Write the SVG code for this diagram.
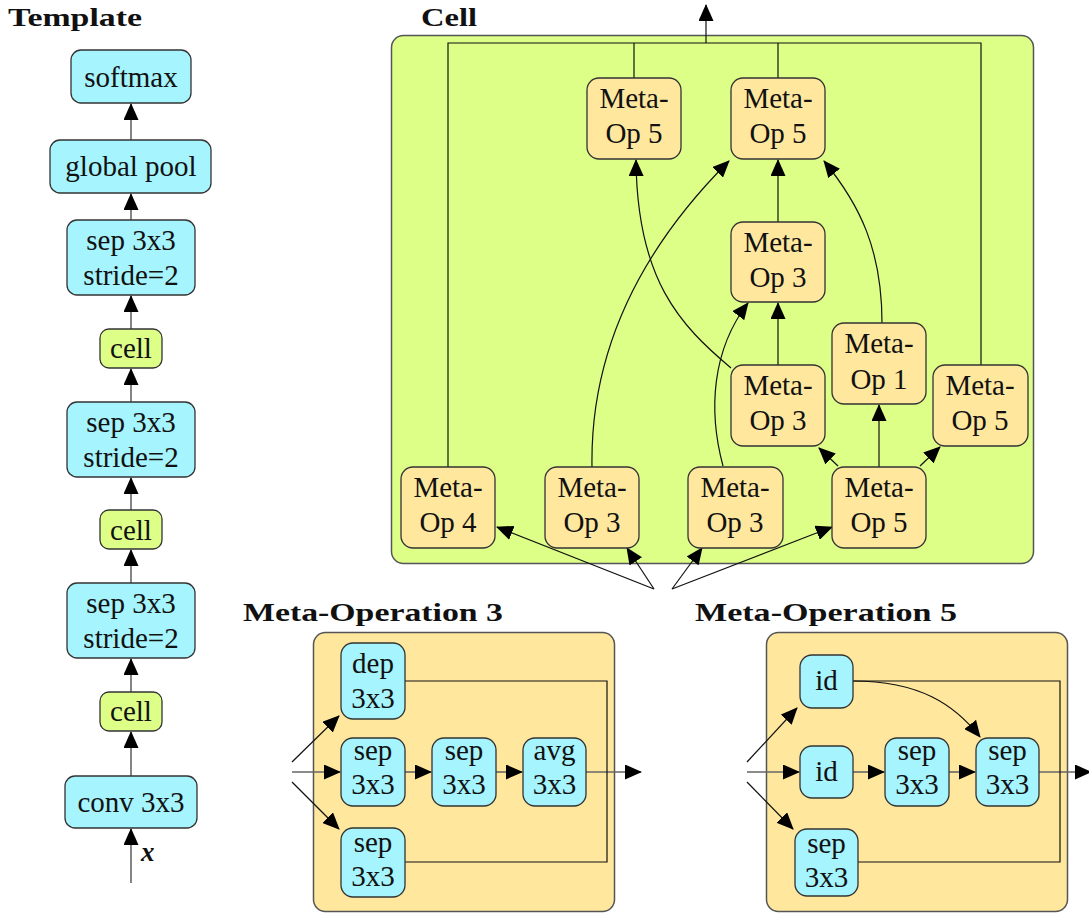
<svg xmlns="http://www.w3.org/2000/svg" width="1089" height="913" viewBox="0 0 1089 913">
<defs>
<marker id="ah" markerUnits="userSpaceOnUse" viewBox="0 0 17 15" markerWidth="17" markerHeight="15" refX="16" refY="7.5" orient="auto">
<path d="M0,0 L17,7.5 L0,15 z" fill="#000"/>
</marker>
<style>
.t{font-family:"Liberation Serif","Times New Roman",serif;font-size:29px;fill:#111;text-anchor:middle}
.title{font-family:"Liberation Serif","Times New Roman",serif;font-size:26px;font-weight:bold;fill:#111}
.op{fill:#A6F4FE;stroke:#333;stroke-width:1.3}
.cl{fill:#DDFF88;stroke:#333;stroke-width:1.3}
.mo{fill:#FFE89E;stroke:#333;stroke-width:1.3}
.panel-g{fill:#DDFF88;stroke:#555;stroke-width:1.5}
.panel-y{fill:#FFE89E;stroke:#555;stroke-width:1.5}
.e{fill:none;stroke:#111;stroke-width:1.2}
.ea{fill:none;stroke:#111;stroke-width:1.2;marker-end:url(#ah)}
.ega{fill:none;stroke:#666;stroke-width:1.6;marker-end:url(#ah)}
</style>
</defs>
<rect width="1089" height="913" fill="#fff"/>

<!-- Titles -->
<text class="title" x="8" y="26" textLength="134" lengthAdjust="spacingAndGlyphs">Template</text>
<text class="title" x="421" y="26" textLength="56" lengthAdjust="spacingAndGlyphs">Cell</text>
<text class="title" x="243" y="621" textLength="260" lengthAdjust="spacingAndGlyphs">Meta-Operation 3</text>
<text class="title" x="695" y="621" textLength="262" lengthAdjust="spacingAndGlyphs">Meta-Operation 5</text>

<!-- Panels -->
<rect id="cell-panel" class="panel-g" x="391.5" y="35.5" width="642" height="528" rx="12"/>
<rect id="mo3-panel" class="panel-y" x="313.5" y="632.5" width="301" height="279" rx="12"/>
<rect id="mo5-panel" class="panel-y" x="766.5" y="632.5" width="301" height="279" rx="12"/>

<!-- Connectors -->
<g id="connectors">
  <!-- template -->
  <line class="ega" x1="131" y1="140" x2="131" y2="104"/>
  <line class="ega" x1="131" y1="220" x2="131" y2="194"/>
  <line class="ega" x1="131" y1="329" x2="131" y2="296"/>
  <line class="ega" x1="131" y1="402" x2="131" y2="369"/>
  <line class="ega" x1="131" y1="510" x2="131" y2="478"/>
  <line class="ega" x1="131" y1="583" x2="131" y2="550"/>
  <line class="ega" x1="131" y1="692" x2="131" y2="659"/>
  <line class="ega" x1="131" y1="776" x2="131" y2="732"/>
  <line class="ega" x1="131" y1="883" x2="131" y2="829"/>

  <!-- cell output -->
  <polyline class="e" points="448,467 448,43 981,43 981,365"/>
  <line class="e" x1="634" y1="78" x2="634" y2="43"/>
  <line class="e" x1="778" y1="78" x2="778" y2="43"/>
  <line class="ea" x1="706" y1="43" x2="706" y2="5"/>

  <!-- cell internal -->
  <line class="ea" x1="778" y1="222" x2="778" y2="160"/>
  <line class="ea" x1="778" y1="365" x2="778" y2="303"/>
  <line class="ea" x1="879" y1="467" x2="879" y2="405"/>
  <line class="ea" x1="838" y1="466" x2="819" y2="448"/>
  <line class="ea" x1="920" y1="466" x2="940" y2="447"/>
  <path class="ea" d="M882,323 C882,250 860,205 824,161"/>
  <path class="ea" d="M731,368 C680,325 637,280 636,160"/>
  <path class="ea" d="M592,467 C590,350 640,250 729,161"/>
  <path class="ea" d="M723,466 C708,410 712,350 748,303"/>

  <!-- cell inputs -->
  <line class="ea" x1="654" y1="589" x2="497" y2="527"/>
  <line class="ea" x1="654" y1="589" x2="627" y2="548"/>
  <line class="ea" x1="672" y1="589" x2="702" y2="548"/>
  <line class="ea" x1="672" y1="589" x2="832" y2="527"/>

  <!-- meta-op 3 -->
  <line class="ega" x1="292" y1="772" x2="340" y2="772"/>
  <line class="ea" x1="292" y1="762" x2="339" y2="716"/>
  <line class="ea" x1="292" y1="782" x2="339" y2="829"/>
  <line class="ega" x1="405" y1="772" x2="431" y2="772"/>
  <line class="ega" x1="496" y1="772" x2="522" y2="772"/>
  <line class="ega" x1="586" y1="772" x2="641" y2="772"/>
  <polyline class="e" points="405,681 607,681 607,862 405,862"/>

  <!-- meta-op 5 -->
  <line class="ega" x1="747" y1="772" x2="799" y2="772"/>
  <line class="ea" x1="747" y1="762" x2="797" y2="708"/>
  <line class="ea" x1="747" y1="782" x2="793" y2="829"/>
  <line class="ega" x1="853" y1="772" x2="884" y2="772"/>
  <line class="ega" x1="949" y1="772" x2="975" y2="772"/>
  <line class="ega" x1="1039" y1="772" x2="1091" y2="772"/>
  <path class="ea" d="M853,681 C920,681 955,705 980,737"/>
  <polyline class="e" points="853,681 1060,681 1060,862 858,862"/>
</g>

<!-- Template nodes -->
<g id="t-softmax"><rect class="op" x="71" y="50" width="120" height="53" rx="10"/><text class="t" x="131" y="87">softmax</text></g>
<g id="t-globalpool"><rect class="op" x="50" y="140" width="161" height="53" rx="10"/><text class="t" x="131" y="176">global pool</text></g>
<g id="t-sep1"><rect class="op" x="67" y="220" width="128" height="75" rx="10"/><text class="t" x="131" y="250">sep 3x3</text><text class="t" x="131" y="285">stride=2</text></g>
<g id="t-cell1"><rect class="cl" x="100" y="329" width="62" height="39" rx="9"/><text class="t" x="131" y="358">cell</text></g>
<g id="t-sep2"><rect class="op" x="67" y="402" width="128" height="75" rx="10"/><text class="t" x="131" y="432">sep 3x3</text><text class="t" x="131" y="467">stride=2</text></g>
<g id="t-cell2"><rect class="cl" x="100" y="510" width="62" height="39" rx="9"/><text class="t" x="131" y="540">cell</text></g>
<g id="t-sep3"><rect class="op" x="67" y="583" width="128" height="75" rx="10"/><text class="t" x="131" y="613">sep 3x3</text><text class="t" x="131" y="648">stride=2</text></g>
<g id="t-cell3"><rect class="cl" x="100" y="692" width="62" height="39" rx="9"/><text class="t" x="131" y="721">cell</text></g>
<g id="t-conv"><rect class="op" x="65" y="776" width="132" height="52" rx="10"/><text class="t" x="131" y="812">conv 3x3</text></g>
<g id="t-x"><text x="141" y="861" style="font-family:'Liberation Serif',serif;font-size:27px;font-style:italic;font-weight:bold;fill:#111">x</text></g>

<!-- Cell nodes -->
<g id="c-mo5-a"><rect class="mo" x="587" y="78" width="94" height="81" rx="12"/><text class="t" x="634" y="108">Meta-</text><text class="t" x="634" y="143">Op 5</text></g>
<g id="c-mo5-b"><rect class="mo" x="731" y="78" width="94" height="81" rx="12"/><text class="t" x="778" y="108">Meta-</text><text class="t" x="778" y="143">Op 5</text></g>
<g id="c-mo3-mid"><rect class="mo" x="731" y="222" width="94" height="80" rx="12"/><text class="t" x="778" y="252">Meta-</text><text class="t" x="778" y="287">Op 3</text></g>
<g id="c-mo3-low"><rect class="mo" x="731" y="365" width="94" height="81" rx="12"/><text class="t" x="778" y="395">Meta-</text><text class="t" x="778" y="430">Op 3</text></g>
<g id="c-mo1"><rect class="mo" x="832" y="323" width="94" height="81" rx="12"/><text class="t" x="879" y="353">Meta-</text><text class="t" x="879" y="389">Op 1</text></g>
<g id="c-mo5-right"><rect class="mo" x="933" y="365" width="95" height="81" rx="12"/><text class="t" x="980" y="395">Meta-</text><text class="t" x="980" y="430">Op 5</text></g>
<g id="c-mo4"><rect class="mo" x="401" y="467" width="94" height="81" rx="12"/><text class="t" x="448" y="497">Meta-</text><text class="t" x="448" y="532">Op 4</text></g>
<g id="c-mo3-a"><rect class="mo" x="545" y="467" width="94" height="81" rx="12"/><text class="t" x="592" y="497">Meta-</text><text class="t" x="592" y="532">Op 3</text></g>
<g id="c-mo3-b"><rect class="mo" x="688" y="467" width="95" height="81" rx="12"/><text class="t" x="735" y="497">Meta-</text><text class="t" x="735" y="532">Op 3</text></g>
<g id="c-mo5-bottom"><rect class="mo" x="832" y="467" width="94" height="81" rx="12"/><text class="t" x="879" y="497">Meta-</text><text class="t" x="879" y="532">Op 5</text></g>

<!-- Meta-Operation 3 nodes -->
<g id="m3-dep"><rect class="op" x="341" y="643" width="64" height="76" rx="12"/><text class="t" x="373" y="673">dep</text><text class="t" x="373" y="708">3x3</text></g>
<g id="m3-sep1"><rect class="op" x="341" y="738" width="64" height="68" rx="12"/><text class="t" x="373" y="760">sep</text><text class="t" x="373" y="794">3x3</text></g>
<g id="m3-sep2"><rect class="op" x="432" y="738" width="64" height="68" rx="12"/><text class="t" x="464" y="760">sep</text><text class="t" x="464" y="794">3x3</text></g>
<g id="m3-avg"><rect class="op" x="523" y="738" width="63" height="68" rx="12"/><text class="t" x="554.5" y="760">avg</text><text class="t" x="554.5" y="794">3x3</text></g>
<g id="m3-sep3"><rect class="op" x="341" y="828" width="64" height="69" rx="12"/><text class="t" x="373" y="852">sep</text><text class="t" x="373" y="886">3x3</text></g>

<!-- Meta-Operation 5 nodes -->
<g id="m5-id1"><rect class="op" x="800" y="655" width="53" height="53" rx="12"/><text class="t" x="826.5" y="690">id</text></g>
<g id="m5-id2"><rect class="op" x="800" y="746" width="53" height="52" rx="12"/><text class="t" x="826.5" y="781">id</text></g>
<g id="m5-sep1"><rect class="op" x="885" y="738" width="64" height="68" rx="12"/><text class="t" x="917" y="760">sep</text><text class="t" x="917" y="794">3x3</text></g>
<g id="m5-sep2"><rect class="op" x="976" y="738" width="63" height="68" rx="12"/><text class="t" x="1007.5" y="760">sep</text><text class="t" x="1007.5" y="794">3x3</text></g>
<g id="m5-sep3"><rect class="op" x="795" y="829" width="63" height="67" rx="12"/><text class="t" x="826.5" y="853">sep</text><text class="t" x="826.5" y="887">3x3</text></g>
</svg>
